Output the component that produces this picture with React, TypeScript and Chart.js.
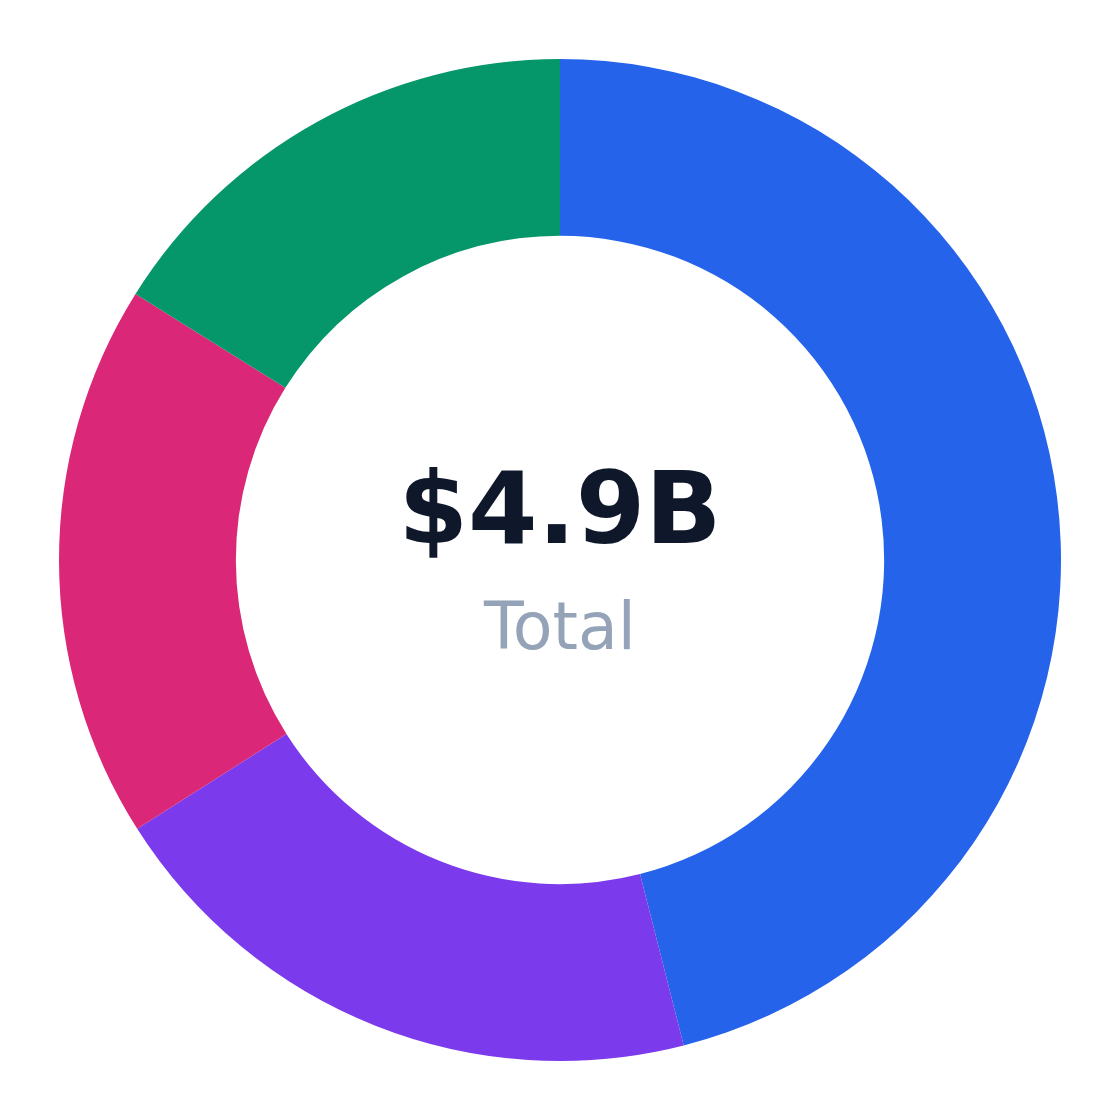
import React, { useEffect, useRef } from "react";
import Chart from "chart.js/auto";

const labels = ["Segment A", "Segment B", "Segment C", "Segment D"];
const values = [2.26, 0.98, 0.88, 0.79];
const colors = ["#2563eb", "#7c3aed", "#db2777", "#059669"];
const totalLabel = "$4.9B";
const subLabel = "Total";

const centerText = {
  id: "centerText",
  afterDraw(chart: any) {
    const meta = chart.getDatasetMeta(0);
    if (!meta.data.length) return;
    const { x, y } = meta.data[0];
    const ctx = chart.ctx;
    ctx.save();
    ctx.textAlign = "center";
    ctx.textBaseline = "alphabetic";
    ctx.fillStyle = "#0f172a";
    ctx.font = "bold 100px 'DejaVu Sans'";
    ctx.fillText(totalLabel, x, y - 17);
    ctx.fillStyle = "#94a3b8";
    ctx.font = "65px 'DejaVu Sans'";
    ctx.fillText(subLabel, x, y + 89);
    ctx.restore();
  },
};

const App: React.FC = () => {
  const chartRef = useRef<HTMLCanvasElement | null>(null);

  useEffect(() => {
    if (!chartRef.current) return;
    const myChart = new Chart(chartRef.current, {
      type: "doughnut",
      data: {
        labels: labels,
        datasets: [
          {
            data: values,
            backgroundColor: colors,
            borderWidth: 0,
          },
        ],
      },
      options: {
        animation: false,
        responsive: true,
        maintainAspectRatio: false,
        cutout: "64.7%",
        layout: { padding: 51 },
        plugins: {
          legend: { display: false },
          tooltip: { enabled: false },
        },
      },
      plugins: [centerText],
    });

    return () => {
      myChart.destroy();
    };
  }, []);

  return (
    <div style={{ width: "1104px", height: "1104px", position: "relative" }}>
      <canvas ref={chartRef} />
    </div>
  );
};

export default App;
